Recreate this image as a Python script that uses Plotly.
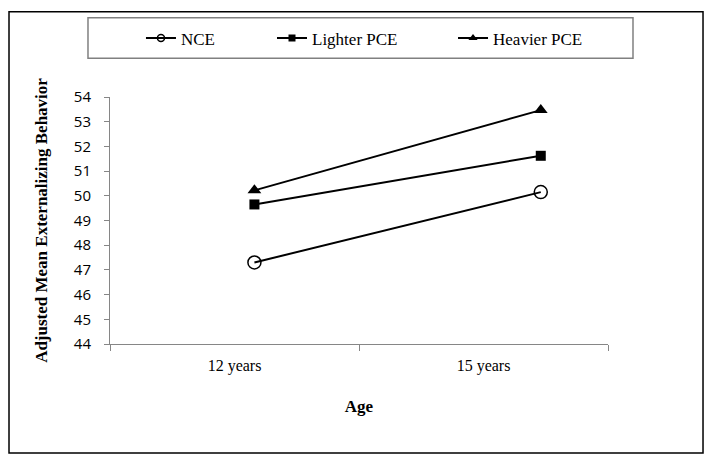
import plotly.graph_objects as go

categories = ["12 years", "15 years"]
point_pos = [0.58, 1.73]          # where the points sit along the age axis
nce = [47.3, 50.15]
lighter_pce = [49.65, 51.62]
heavier_pce = [50.22, 53.47]
y_ticks = list(range(44, 55))
series_names = ["NCE", "Lighter PCE", "Heavier PCE"]

fig = go.Figure()
plot_markers = [
    dict(symbol="circle-open", size=13, color="black", line=dict(width=1.5, color="black")),
    dict(symbol="square", size=10, color="black"),
    dict(symbol="triangle-up", size=12, color="black"),
]
legend_markers = [
    dict(symbol="circle-open", size=7, color="black", line=dict(width=1.5, color="black")),
    dict(symbol="square", size=7, color="black"),
    dict(symbol="triangle-up", size=8, color="black"),
]
legend_ids = ["legend", "legend2", "legend3"]
for name, vals, mk, lmk, lid in zip(series_names, [nce, lighter_pce, heavier_pce],
                                    plot_markers, legend_markers, legend_ids):
    fig.add_trace(go.Scatter(x=point_pos, y=vals, name=name, mode="lines+markers",
                             line=dict(color="black", width=2), marker=mk, showlegend=False))
    fig.add_trace(go.Scatter(x=[None], y=[None], name=name, mode="lines+markers",
                             line=dict(color="black", width=2), marker=lmk,
                             showlegend=True, legend=lid))

leg_font = dict(family="Liberation Serif", size=17, color="black")
def leg(x):
    return dict(x=x, y=1.237, xanchor="left", yanchor="middle", font=leg_font,
                bgcolor="rgba(0,0,0,0)", borderwidth=0, orientation="h")

fig.update_layout(
    width=697, height=448,
    margin=dict(l=102, r=97, t=87, b=112),
    paper_bgcolor="white", plot_bgcolor="white",
    showlegend=True,
    legend=leg(0.0622), legend2=leg(0.3253), legend3=leg(0.6888),
    xaxis=dict(range=[0, 2], tickvals=[0.5, 1.5], ticktext=categories, ticks="",
               ticklabelstandoff=7,
               showline=True, linecolor="#868686", linewidth=1, showgrid=False, zeroline=False,
               tickfont=dict(family="Liberation Serif", size=16, color="black"),
               minor=dict(tick0=0, dtick=1, ticks="outside", ticklen=6, tickcolor="#868686", showgrid=False),
               title=dict(text="<b>Age</b>", font=dict(family="Liberation Serif", size=17, color="black"), standoff=25)),
    yaxis=dict(range=[44, 54], tickvals=y_ticks, ticks="outside", ticklen=5, tickcolor="#868686",
               ticklabelstandoff=10,
               showline=True, linecolor="#868686", linewidth=1, showgrid=False, zeroline=False,
               tickfont=dict(family="Open Sans", size=15, color="black"),
               title=dict(text="<b>Adjusted Mean Externalizing Behavior</b>",
                          font=dict(family="Liberation Serif", size=17, color="black"), standoff=21)),
)
fig.add_shape(type="rect", xref="paper", yref="paper", x0=-0.2028, x1=1.1908, y0=-0.4418, y1=1.3454,
              line=dict(color="black", width=1.5))
fig.add_shape(type="rect", xref="paper", yref="paper", x0=-0.0442, x1=1.0502, y0=1.1566, y1=1.3213,
              line=dict(color="#808080", width=1.5))
fig.write_html("out.html")
